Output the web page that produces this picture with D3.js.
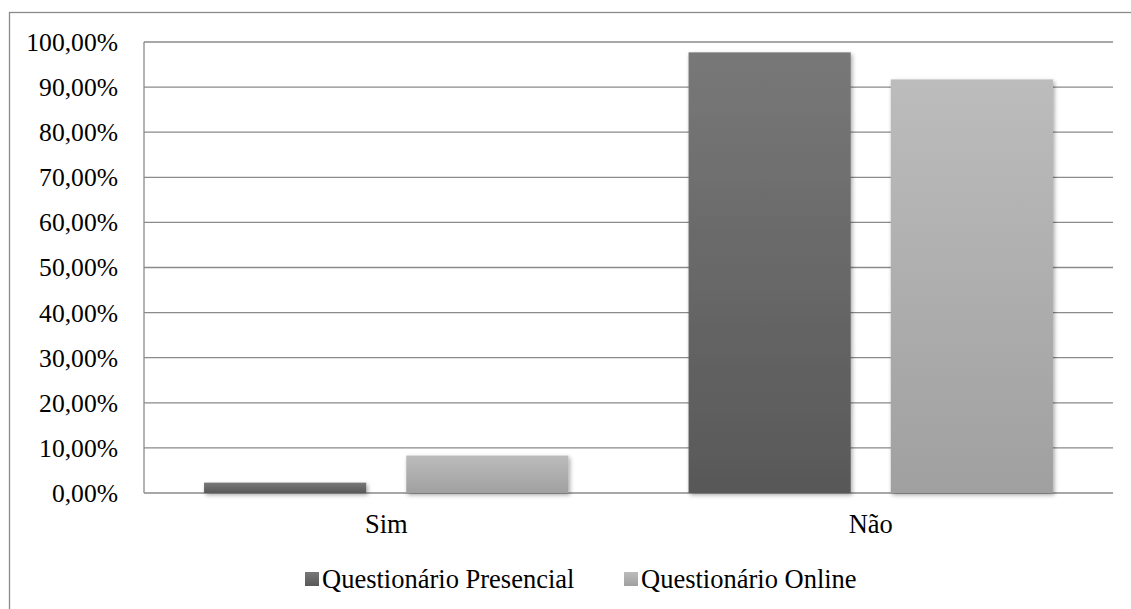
<!DOCTYPE html>
<html><head><meta charset="utf-8">
<script src="https://cdn.jsdelivr.net/npm/d3@7"></script>
<style>
html,body{margin:0;padding:0;background:#fff;}
svg text{font-family:"Liberation Serif","Times New Roman",Times,serif;}
</style></head>
<body>
<svg id="c" width="1131" height="609"></svg>
<script>
const categories = ["Sim", "Não"];
const seriesNames = ["Questionário Presencial", "Questionário Online"];
const presencial = [2.3, 97.7];
const online = [8.3, 91.7];
const tickValues = [0,10,20,30,40,50,60,70,80,90,100];

const FONT = "Liberation Serif, Times New Roman, serif";
const svg = d3.select("#c");
const plot = {l:144, r:1113, t:42, b:493};

// frame
svg.append("rect").attr("x",9.5).attr("y",12.5).attr("width",1200).attr("height",700)
  .attr("fill","none").attr("stroke","#8a8a8a").attr("stroke-width",1.3);

const defs = svg.append("defs");
const grads = [["gP","#787878","#585858"],["gO","#bcbcbc","#a0a0a0"]];
grads.forEach(([id,a,b])=>{
  const g = defs.append("linearGradient").attr("id",id).attr("x1",0).attr("y1",0).attr("x2",0).attr("y2",1);
  g.append("stop").attr("offset","0%").attr("stop-color",a);
  g.append("stop").attr("offset","100%").attr("stop-color",b);
});
const f = defs.append("filter").attr("id","sh").attr("x","-10%").attr("y","-10%").attr("width","130%").attr("height","130%");
f.append("feDropShadow").attr("dx",1.5).attr("dy",2).attr("stdDeviation",2.2).attr("flood-color","#000").attr("flood-opacity",0.35);

const y = d3.scaleLinear().domain([0,100]).range([plot.b, plot.t]);
const x0 = d3.scaleBand().domain(categories).range([plot.l, plot.r]).padding(0);
const x1 = d3.scaleBand().domain(seriesNames).range([0, x0.bandwidth()]).paddingInner(0.198).paddingOuter(0.297);

// gridlines
svg.append("g").selectAll("line").data(tickValues).join("line")
  .attr("x1",plot.l).attr("x2",plot.r)
  .attr("y1",d=>y(d)).attr("y2",d=>y(d))
  .attr("stroke","#8a8a8a").attr("stroke-width",1.3);
svg.append("line").attr("x1",plot.l).attr("x2",plot.l).attr("y1",plot.t).attr("y2",plot.b)
  .attr("stroke","#8a8a8a").attr("stroke-width",1.3);

// tick labels
const fmt = v => v.toFixed(2).replace(".",",") + "%";
svg.append("g").selectAll("text").data(tickValues).join("text")
  .attr("x",118).attr("y",d=>y(d)).attr("dy","0.35em")
  .attr("text-anchor","end").attr("font-size",25.6).attr("font-family",FONT).attr("fill","#000")
  .text(fmt);

// bars
const series = [presencial, online];
const gIds = ["gP","gO"];
series.forEach((vals,si)=>{
  svg.append("g").attr("filter","url(#sh)").selectAll("rect").data(vals).join("rect")
    .attr("x",(d,i)=>x0(categories[i]) + x1(seriesNames[si]))
    .attr("width",x1.bandwidth())
    .attr("y",d=>y(d))
    .attr("height",d=>y(0)-y(d))
    .attr("fill",`url(#${gIds[si]})`);
});

// category labels
svg.append("g").selectAll("text").data(categories).join("text")
  .attr("x",d=>x0(d)+x0.bandwidth()/2).attr("y",533)
  .attr("text-anchor","middle").attr("font-size",26.5).attr("font-family",FONT).attr("fill","#000")
  .text(d=>d);

// legend
const leg = svg.append("g");
const legX = [305, 624];
seriesNames.forEach((n,i)=>{
  leg.append("rect").attr("x",legX[i]).attr("y",572).attr("width",14).attr("height",14)
    .attr("fill",`url(#${gIds[i]})`);
  leg.append("text").attr("x",legX[i]+17).attr("y",588).attr("font-size",26.5).attr("font-family",FONT).attr("fill","#000").text(n);
});
</script>
</body></html>
